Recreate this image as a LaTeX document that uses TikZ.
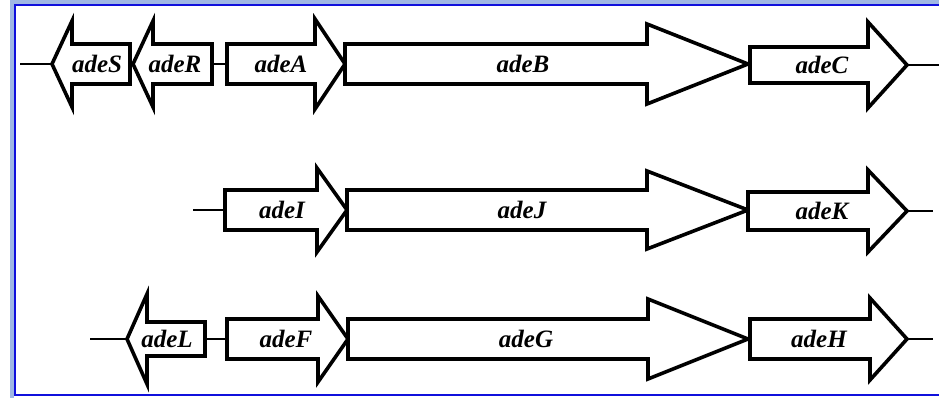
\documentclass[tikz,border=0pt]{standalone}
\usepackage{fontspec}
\setmainfont{Liberation Serif}
\newcommand\gfwd[9]{%
  \draw[gene] (#2,#5-#6) -- (#3,#5-#6) -- (#3,#5-#7) -- (#4,#5) -- (#3,#5+#7) -- (#3,#5+#6) -- (#2,#5+#6) -- cycle;
  \coordinate (#1-w) at (#2,#5);
  \coordinate (#1-e) at (#4,#5);
  \node[lbl] (#1) at (#8,#5+8) {#9};}
\newcommand\grev[9]{%
  \draw[gene] (#4,#5-#6) -- (#3,#5-#6) -- (#3,#5-#7) -- (#2,#5) -- (#3,#5+#7) -- (#3,#5+#6) -- (#4,#5+#6) -- cycle;
  \coordinate (#1-w) at (#2,#5);
  \coordinate (#1-e) at (#4,#5);
  \node[lbl] (#1) at (#8,#5+8) {#9};}
\begin{document}
\begin{tikzpicture}[x=1pt,y=-1pt,
  gene/.style={draw=black, line width=3.6pt, fill=white, line join=miter, miter limit=20},
  link/.style={draw=black, line width=2.6pt},
  lbl/.style={font=\fontsize{25}{25}\selectfont\bfseries\itshape, inner sep=0pt, anchor=base}]
\useasboundingbox (0,0) rectangle (939,399);
\fill[white] (0,0) rectangle (939,399);
% frame
\draw[color={rgb,255:red,160;green,184;blue,228}, line width=4pt] (950,2) -- (12,2) -- (12,398);
\draw[color={rgb,255:red,16;green,16;blue,220}, line width=2.4pt] (950,5) -- (15,5) -- (15,395) -- (950,395);
% row 1
\coordinate (r1a) at (20,64);
\coordinate (r1b) at (939,64);
\grev{adeS}{52}{72}{130}{64}{20}{43}{97}{adeS}
\grev{adeR}{133}{153}{212}{64}{20}{43}{175}{adeR}
\gfwd{adeA}{227}{315}{345}{64}{20}{45}{281}{adeA}
\gfwd{adeB}{345}{647}{748}{64}{20}{40}{523}{adeB}
\gfwd{adeC}{750}{868}{907}{65}{18}{43}{822}{adeC}
\draw[link] (r1a) -- (adeS-w);
\draw[link] (adeR-e) -- (adeA-w);
\draw[link] (adeC-e) -- (r1b |- adeC-e);
% row 2
\coordinate (r2a) at (193,210);
\coordinate (r2b) at (933,210);
\gfwd{adeI}{225}{317}{347}{210}{20}{42}{282}{adeI}
\gfwd{adeJ}{347}{647}{748}{210}{20}{39}{522}{adeJ}
\gfwd{adeK}{748}{868}{907}{211}{19}{41}{822}{adeK}
\draw[link] (r2a) -- (adeI-w);
\draw[link] (adeK-e) -- (r2b |- adeK-e);
% row 3
\coordinate (r3a) at (90,339);
\coordinate (r3b) at (933,339);
\grev{adeL}{127}{147}{205}{339}{17}{45}{167}{adeL}
\gfwd{adeF}{227}{318}{348}{339}{20}{43}{286}{adeF}
\gfwd{adeG}{348}{648}{748}{339}{20}{40}{526}{adeG}
\gfwd{adeH}{750}{870}{907}{339}{20}{41}{819}{adeH}
\draw[link] (r3a) -- (adeL-w);
\draw[link] (adeL-e) -- (adeF-w);
\draw[link] (adeH-e) -- (r3b |- adeH-e);
\end{tikzpicture}
\end{document}
